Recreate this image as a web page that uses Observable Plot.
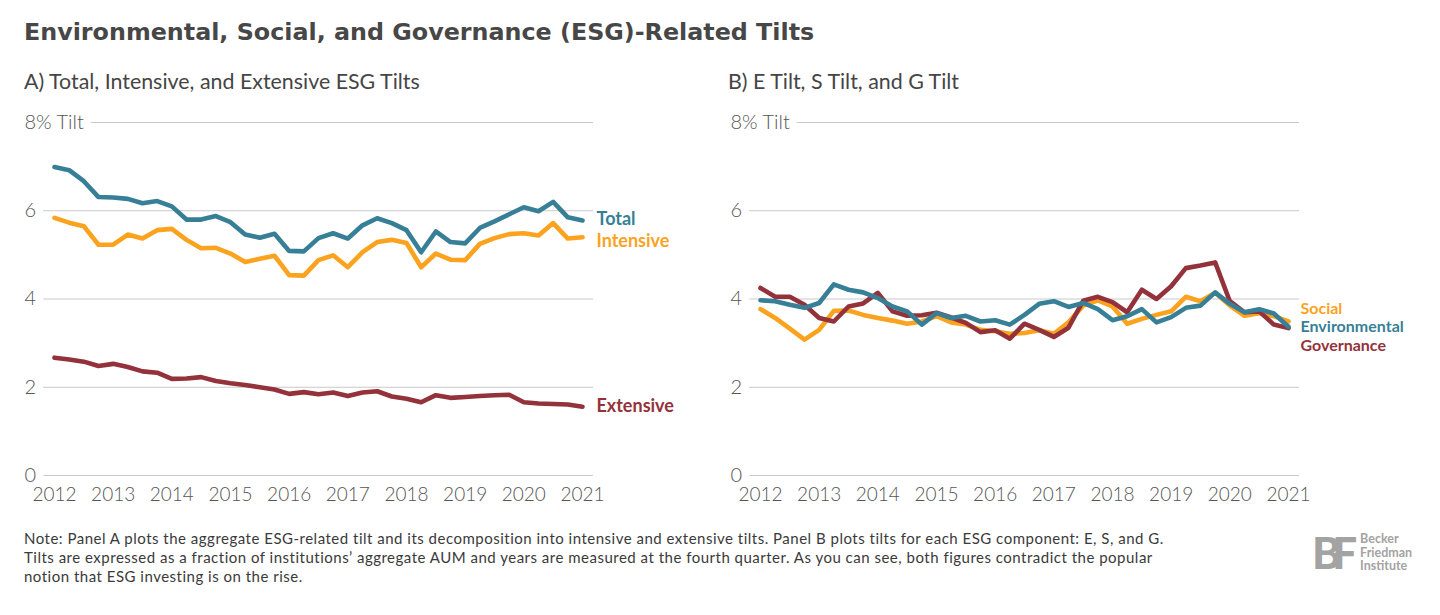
<!DOCTYPE html>
<html>
<head>
<meta charset="utf-8">
<script src="https://cdn.jsdelivr.net/npm/d3@7"></script>
<script src="https://cdn.jsdelivr.net/npm/@observablehq/plot@0.6"></script>
<style>
  html, body { margin: 0; padding: 0; background: #fff; }
  #wrap { position: relative; width: 1440px; height: 615px; overflow: hidden; font-family: Lato, sans-serif; color: #444; }
  #title { position: absolute; left: 24px; top: 17.5px; font-family: "DejaVu Sans", sans-serif; font-size: 23.8px; font-weight: 700; color: #474747; white-space: nowrap; }
  .sub { position: absolute; top: 68px; font-size: 21.4px; font-weight: 400; color: #454545; white-space: nowrap; }
  .panel { position: absolute; top: 100px; }
  #note { position: absolute; left: 24px; top: 529px; font-size: 15px; letter-spacing: 0.5px; line-height: 19px; color: #3a3a3a; white-space: nowrap; }
  #logo { position: absolute; left: 1312px; top: 532px; display: flex; align-items: center; color: #a3a3a3; }
  #logo .mark { font-size: 44px; font-weight: 900; letter-spacing: -9px; line-height: 40px; margin-right: 12px; }
  #logo .name { font-size: 12.5px; font-weight: 700; line-height: 13.5px; }
</style>
</head>
<body>
<div id="wrap">
  <div id="title">Environmental, Social, and Governance (ESG)-Related Tilts</div>
  <div class="sub" style="left:24px">A) Total, Intensive, and Extensive ESG Tilts</div>
  <div class="sub" style="left:728px">B) E Tilt, S Tilt, and G Tilt</div>
  <div class="panel" id="pa" style="left:0px"></div>
  <div class="panel" id="pb" style="left:706px"></div>
  <div id="note">Note: Panel A plots the aggregate ESG-related tilt and its decomposition into intensive and extensive tilts. Panel B plots tilts for each ESG component: E, S, and G.<br>Tilts are expressed as a fraction of institutions’ aggregate AUM and years are measured at the fourth quarter. As you can see, both figures contradict the popular<br>notion that ESG investing is on the rise.</div>
  <div id="logo"><div class="mark">BF</div><div class="name">Becker<br>Friedman<br>Institute</div></div>
</div>
<script>
// quarterly observations, 2012 to 2021
const quarters = d3.range(37).map(i => 2012 + i / 4);
const xTicks = [2012, 2013, 2014, 2015, 2016, 2017, 2018, 2019, 2020, 2021];
const yTicks = [0, 2, 4, 6, 8];

const total = [6.99, 6.92, 6.67, 6.31, 6.30, 6.27, 6.17, 6.22, 6.10, 5.80, 5.80, 5.88, 5.74, 5.46, 5.39, 5.48, 5.09, 5.08, 5.38, 5.49, 5.37, 5.67, 5.83, 5.72, 5.56, 5.06, 5.53, 5.29, 5.26, 5.61, 5.76, 5.92, 6.08, 5.99, 6.20, 5.85, 5.78];
const intensive = [5.84, 5.73, 5.65, 5.23, 5.23, 5.46, 5.37, 5.56, 5.59, 5.34, 5.15, 5.16, 5.03, 4.84, 4.91, 4.98, 4.54, 4.53, 4.88, 4.99, 4.72, 5.06, 5.29, 5.34, 5.27, 4.72, 5.03, 4.89, 4.88, 5.25, 5.38, 5.47, 5.49, 5.44, 5.72, 5.37, 5.40];
const extensive = [2.67, 2.63, 2.58, 2.48, 2.53, 2.46, 2.36, 2.33, 2.19, 2.20, 2.23, 2.14, 2.09, 2.05, 2.00, 1.95, 1.85, 1.89, 1.84, 1.88, 1.80, 1.88, 1.91, 1.79, 1.74, 1.66, 1.82, 1.76, 1.78, 1.80, 1.82, 1.83, 1.66, 1.63, 1.62, 1.61, 1.56];

const environmental = [3.97, 3.95, 3.87, 3.80, 3.91, 4.33, 4.21, 4.15, 4.02, 3.83, 3.72, 3.42, 3.68, 3.57, 3.62, 3.49, 3.52, 3.42, 3.64, 3.89, 3.95, 3.82, 3.91, 3.77, 3.52, 3.61, 3.77, 3.47, 3.59, 3.80, 3.85, 4.15, 3.89, 3.70, 3.77, 3.67, 3.37];
const social = [3.77, 3.57, 3.33, 3.08, 3.30, 3.73, 3.74, 3.64, 3.57, 3.51, 3.44, 3.49, 3.61, 3.47, 3.42, 3.30, 3.27, 3.21, 3.23, 3.29, 3.21, 3.47, 3.85, 3.97, 3.83, 3.44, 3.55, 3.64, 3.72, 4.05, 3.95, 4.14, 3.85, 3.62, 3.68, 3.61, 3.49];
const governance = [4.25, 4.05, 4.05, 3.87, 3.57, 3.49, 3.83, 3.90, 4.14, 3.72, 3.62, 3.63, 3.69, 3.58, 3.46, 3.25, 3.29, 3.10, 3.44, 3.30, 3.14, 3.35, 3.96, 4.05, 3.93, 3.70, 4.21, 4.00, 4.29, 4.70, 4.76, 4.83, 3.95, 3.70, 3.72, 3.42, 3.34];

const BLUE = "#377f97", ORANGE = "#fba31f", RED = "#93323a";

function series(name, values, color) {
  return { name, color, rows: values.map((v, i) => ({ t: quarters[i], v })) };
}

function panel(seriesList, labelOpts, width, labelSize, spacing) {
  const marks = [
    Plot.ruleY(yTicks, { stroke: "#c9c9c9", strokeWidth: 1.2 }),
    Plot.text(yTicks, {
      y: d => d, text: d => d === 8 ? "8% Tilt" : String(d),
      frameAnchor: "left", dx: -19, textAnchor: "start",
      fill: "#555", stroke: "white", strokeWidth: 16, paintOrder: "stroke",
      fontSize: 20, fontWeight: 300
    }),
    Plot.axisX({ ticks: xTicks, tickSize: 0, tickPadding: 12, label: null, tickFormat: d => String(d), fontSize: 19, fontWeight: 300 })
  ];
  for (const s of seriesList) {
    marks.push(Plot.line(s.rows, { x: "t", y: "v", stroke: s.color, strokeWidth: 4.6, strokeLinejoin: "round", strokeLinecap: "round" }));
  }
  for (const s of seriesList) {
    const lo = labelOpts[s.name];
    marks.push(Plot.text([s.rows[s.rows.length - 1]], {
      x: "t", y: "v", text: () => s.name, fill: s.color,
      dx: lo.dx, dy: lo.dy, textAnchor: "start", fontWeight: 700, fontSize: labelSize,
      ariaLabel: "series-label"
    }));
  }
  const svg = Plot.plot({
    width, height: 415,
    marginLeft: 43, marginRight: width - 593, marginTop: 22, marginBottom: 40,
    x: { domain: [2011.8125, 2021.1875], axis: null },
    y: { domain: [0, 8], axis: null },
    style: { fontFamily: "Lato, sans-serif", color: "#555", background: "transparent", overflow: "visible" },
    marks
  });
  d3.select(svg).selectAll('g[aria-label="series-label"] text').style("letter-spacing", spacing);
  return svg;
}

const A = [series("Extensive", extensive, RED), series("Intensive", intensive, ORANGE), series("Total", total, BLUE)];
document.getElementById("pa").append(panel(A, {
  Total: { dx: 14, dy: -1 }, Intensive: { dx: 14, dy: 4 }, Extensive: { dx: 14, dy: 0 }
}, 706, 18, "0.4px"));

const B = [series("Social", social, ORANGE), series("Governance", governance, RED), series("Environmental", environmental, BLUE)];
document.getElementById("pb").append(panel(B, {
  Social: { dx: 12, dy: -13 }, Environmental: { dx: 12, dy: 0.5 }, Governance: { dx: 12, dy: 17.5 }
}, 734, 16, "1.4px"));
</script>
</body>
</html>
